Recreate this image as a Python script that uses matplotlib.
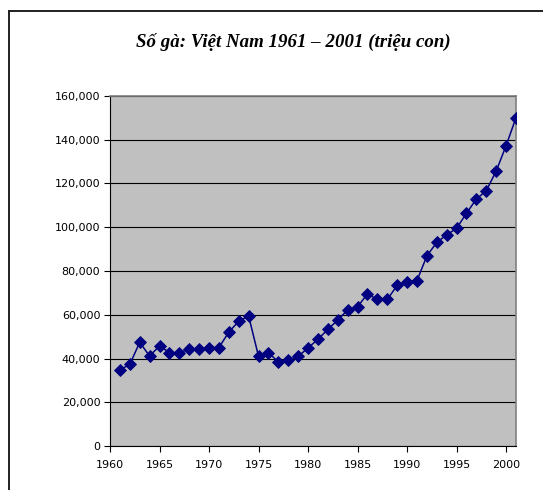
import matplotlib
matplotlib.use("Agg")
import matplotlib.pyplot as plt
from matplotlib.lines import Line2D
from matplotlib.ticker import FuncFormatter

# Chicken numbers, Viet Nam 1961 - 2001
years = list(range(1961, 2002))
chickens = [
    34800, 37300, 47400, 41100, 45800, 42700, 42700, 44200, 44200, 45000,
    45000, 52100, 57000, 59400, 41000, 42700, 38400, 39300, 41000, 44800,
    48800, 53300, 57600, 62200, 63700, 69500, 67000, 67000, 73400, 75000,
    75600, 86900, 93100, 96500, 99500, 106400, 112900, 116700, 125700, 137300,
    150100,
]
x_ticks = [1960, 1965, 1970, 1975, 1980, 1985, 1990, 1995, 2000]
y_ticks = [0, 20000, 40000, 60000, 80000, 100000, 120000, 140000, 160000]
title = "Số gà: Việt Nam 1961 – 2001 (triệu con)"

W, H = 543, 490
fig = plt.figure(figsize=(W / 100, H / 100), dpi=100)
ax = fig.add_axes([110 / W, 1 - 446 / H, (516 - 110) / W, (446 - 96) / H])

ax.set_facecolor("#c0c0c0")
ax.plot(years, chickens, color="#000080", lw=1.1, marker="D", ms=6,
        mfc="#000080", mec="#000080", mew=0.6, zorder=3)

ax.set_xlim(1960, 2001)
ax.set_ylim(0, 160000)
ax.set_xticks(x_ticks)
ax.set_yticks(y_ticks)
ax.yaxis.set_major_formatter(FuncFormatter(lambda v, p: f"{int(v):,}"))
ax.grid(axis="y", color="black", lw=0.8)
ax.set_axisbelow(True)

for side in ("top", "right"):
    ax.spines[side].set_color("#808080")
    ax.spines[side].set_linewidth(1.2)
for side in ("left", "bottom"):
    ax.spines[side].set_color("black")
    ax.spines[side].set_linewidth(0.8)

ax.tick_params(axis="both", direction="out", length=4, width=0.8,
               labelsize=8, colors="black", pad=3)
ax.tick_params(axis="x", pad=6)

fig.text(293 / W, 1 - 42 / H, title, ha="center", va="center",
         family="Liberation Serif", fontstyle="italic", fontweight="bold",
         fontsize=13.6)

# outer chart frame (partly cut off on right and bottom)
fig.add_artist(Line2D([8.5 / W, 8.5 / W], [0, 1 - 11 / H],
                      transform=fig.transFigure, color="#202020", lw=1.4))
fig.add_artist(Line2D([8.5 / W, 1], [1 - 11 / H, 1 - 11 / H],
                      transform=fig.transFigure, color="#202020", lw=1.4))

fig.savefig("out.png", dpi=100)
